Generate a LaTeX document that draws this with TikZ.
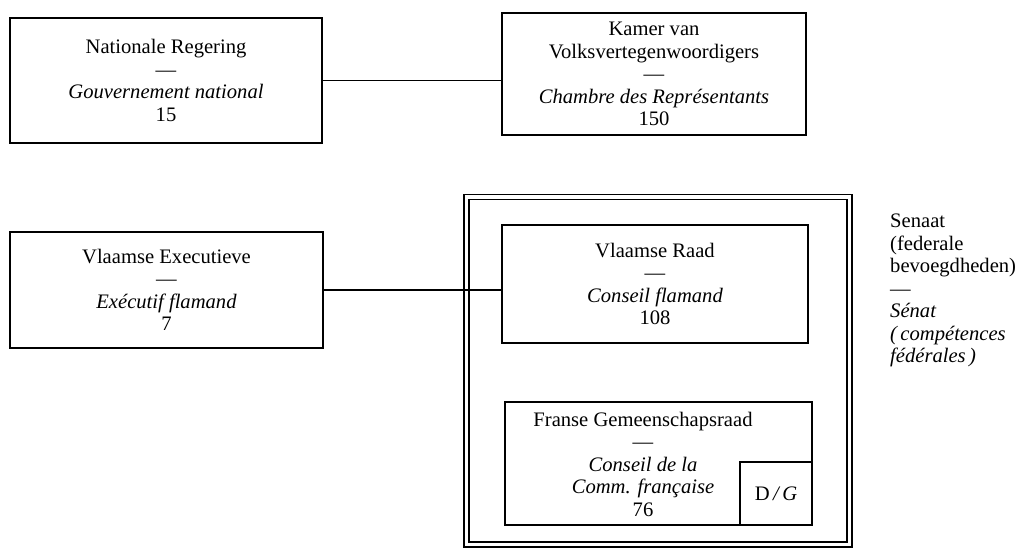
\documentclass[tikz,border=0pt]{standalone}
\usepackage{fontspec}
\setmainfont{Liberation Serif}
\newcommand{\orgfont}{\fontsize{20.6}{22.5}\selectfont}

\begin{document}
\begin{tikzpicture}[x=1pt,y=-1pt,
  orgbox/.style={draw,line width=1.6pt,inner sep=0pt,align=center,font=\orgfont},
  orglabel/.style={inner sep=0pt,align=center,font=\orgfont},
  link/.style={line width=1.3pt}]
  \useasboundingbox (0,0) rectangle (1025,554);
  % senaat frame
  \node[draw,double,line width=1.3pt,double distance=3.7pt,minimum width=383pt,minimum height=347.5pt] (senframe) at (658,370.75) {};
  % top row
  \node[orgbox,minimum width=312pt,minimum height=125pt] (natreg) at (166,80.5) {Nationale Regering\\—\\\textit{Gouvernement national}\\15};
  \node[orgbox,minimum width=304pt,minimum height=122pt] (kamer) at (654,74) {Kamer van\\Volksvertegenwoordigers\\—\\\textit{Chambre des Représentants}\\150};
  % flemish side
  \node[orgbox,minimum width=313pt,minimum height=116pt] (vlexec) at (166.5,290) {Vlaamse Executieve\\—\\\textit{Exécutif flamand}\\7};
  \node[orgbox,minimum width=306pt,minimum height=118pt] (vlraad) at (655,284) {Vlaamse Raad\\—\\\textit{Conseil flamand}\\108};
  % french community council
  \node[orgbox,minimum width=307pt,minimum height=123pt] (franse) at (658.5,463.5) {};
  \node[orglabel] (franselbl) at (643,464) {Franse Gemeenschapsraad\\—\\\textit{Conseil de la}\\\textit{Comm. française}\\76};
  \node[orgbox,minimum width=72pt,minimum height=63pt] (dg) at (776,493.5) {D\,\textit{/\,G}};
  % senaat label
  \node[anchor=north west,align=left,inner sep=0pt,font=\orgfont] (senaat) at (890,214) {Senaat\\(federale\\bevoegdheden)\\—\\\textit{Sénat}\\\textit{(\,compétences}\\\textit{fédérales\,)}};
  % links
  \draw[link] (natreg.east) -- (natreg.east -| kamer.west);
  \draw[link] (vlexec.east) -- (vlexec.east -| vlraad.west);
\end{tikzpicture}
\end{document}
